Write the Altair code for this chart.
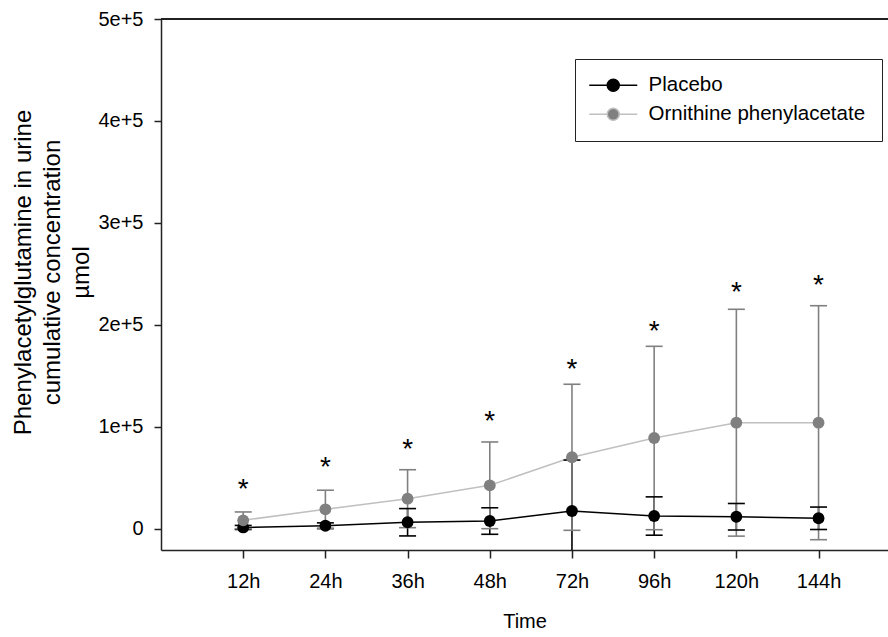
import altair as alt
import pandas as pd

# ---- data ----
times = ["12h", "24h", "36h", "48h", "72h", "96h", "120h", "144h"]
series_names = ["Placebo", "Ornithine phenylacetate"]
placebo_mean = [1500, 3200, 6600, 7800, 17600, 12700, 12000, 10500]
placebo_sd = [2000, 2800, 13400, 13000, 50000, 18800, 13000, 11000]
orn_mean = [8500, 19300, 29700, 42800, 70300, 89200, 104200, 104200]
orn_sd = [8200, 18700, 28400, 42500, 71600, 89900, 111200, 114700]
star_y = [46400, 67600, 85000, 112500, 163400, 201300, 239200, 245800]
y_ticks = [0, 100000, 200000, 300000, 400000, 500000]
y_tick_labels = ["0", "1e+5", "2e+5", "3e+5", "4e+5", "5e+5"]
y_title = ["Phenylacetylglutamine in urine", "cumulative concentration", "µmol"]

rows = []
for name, means, sds in [(series_names[0], placebo_mean, placebo_sd),
                         (series_names[1], orn_mean, orn_sd)]:
    for i, t in enumerate(times):
        rows.append({"series": name, "t": i + 1, "time": t, "mean": means[i],
                     "lower": means[i] - sds[i], "upper": means[i] + sds[i]})
df = pd.DataFrame(rows)
stars = pd.DataFrame({"t": list(range(1, len(times) + 1)), "y": star_y})

FONT = "Liberation Sans"
AX = "#222222"

x_label_expr = "[" + ",".join("'%s'" % t for t in times) + "][datum.value - 1]"
y_label_expr = "{" + ",".join("'%d':'%s'" % (v, l) for v, l in zip(y_ticks, y_tick_labels)) + "}[''+datum.value]"

x_scale = alt.Scale(domain=[0, 8.845], nice=False, zero=False)
y_scale = alt.Scale(domain=[-20600, 500000], nice=False, zero=False)

x_axis = alt.Axis(values=list(range(1, len(times) + 1)), labelExpr=x_label_expr,
                  title="Time", grid=False, tickSize=8, labelPadding=13,
                  titleY=61, titleBaseline="top", titleFontSize=20)
y_axis = alt.Axis(values=y_ticks, labelExpr=y_label_expr, grid=False,
                  title=y_title,
                  tickSize=7, labelPadding=11, titleX=-138, titleY=253,
                  titleAngle=270, titleAlign="center", titleBaseline="middle",
                  titleFontSize=24, titleLineHeight=29)

def X():
    return alt.X("t:Q", scale=x_scale, axis=x_axis, title="Time")

def Y(field):
    return alt.Y(field + ":Q", scale=y_scale, axis=y_axis, title=y_title)

SYMBOL = "M-4,0L-1,0M1,0L4,0M-1,0A1,1,0,1,1,1,0A1,1,0,1,1,-1,0Z"
legend = alt.Legend(orient="none", legendX=414, legendY=40, title=None,
                    symbolType=SYMBOL, symbolSize=144, symbolStrokeWidth=1.5,
                    symbolOffset=12, labelOffset=25, labelFont=FONT,
                    labelFontSize=20.5, labelColor="black", labelLimit=0,
                    padding=16, rowPadding=8, strokeColor=AX, fillColor="white")

fill_scale = alt.Scale(domain=series_names, range=["#000000", "#808080"])
stroke_scale = alt.Scale(domain=series_names, range=["#000000", "#c0c0c0"])
err_scale = alt.Scale(domain=series_names, range=["#000000", "#808080"])

base = alt.Chart(df)

lines = base.mark_line(strokeWidth=1.5).encode(
    x=X(), y=Y("mean"),
    stroke=alt.Stroke("series:N", scale=stroke_scale, legend=legend),
    order="t:Q",
)

err_rules = base.mark_rule(strokeWidth=1.6, clip=True).encode(
    x=X(), y=Y("lower"), y2="upper:Q",
    color=alt.Color("series:N", scale=err_scale, legend=None),
)
cap_up = base.mark_tick(orient="horizontal", size=17, thickness=1.6, clip=True, opacity=1).encode(
    x=X(), y=Y("upper"),
    color=alt.Color("series:N", scale=err_scale, legend=None),
)
cap_lo = base.mark_tick(orient="horizontal", size=17, thickness=1.6, clip=True, opacity=1).encode(
    x=X(), y=Y("lower"),
    color=alt.Color("series:N", scale=err_scale, legend=None),
)

points = base.mark_point(filled=True, size=140, opacity=1, shape="circle").encode(
    x=X(), y=Y("mean"),
    fill=alt.Fill("series:N", scale=fill_scale, legend=legend),
)

star_text = alt.Chart(stars).mark_text(text="*", font=FONT, fontSize=28,
                                       baseline="alphabetic", dy=16, color="black").encode(
    x=X(), y=Y("y"),
)

top_line = alt.Chart(stars).mark_rule(color=AX, strokeWidth=1.5).encode(
    y=alt.Y(datum=500000, scale=y_scale),
)

chart = alt.layer(top_line, lines, err_rules, cap_up, cap_lo, points, star_text).properties(
    width=727, height=531,
    autosize=alt.AutoSizeParams(type="none"),
    padding={"left": 161, "top": 19, "right": 0, "bottom": 87},
    background="white",
).configure_view(strokeWidth=0).configure_axis(
    domainColor=AX, domainWidth=1.5, tickColor=AX, tickWidth=1.5,
    labelFont=FONT, labelFontSize=20, labelColor="black",
    titleFont=FONT, titleFontWeight="normal", titleColor="black",
)

chart.save("out.html", embed_options={"renderer": "svg", "actions": False})
